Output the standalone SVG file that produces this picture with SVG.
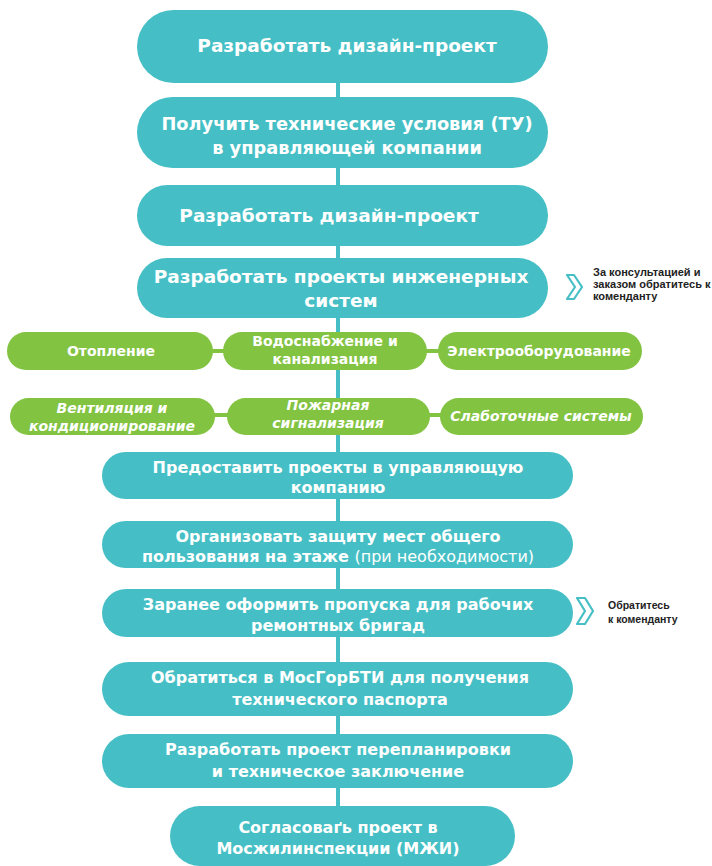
<svg xmlns="http://www.w3.org/2000/svg" width="712" height="866" viewBox="0 0 712 866">
<style>
.t{fill:#45BFC5}
.g{fill:#82C341}
.tx{font-family:"DejaVu Sans",sans-serif;font-weight:bold;fill:#fff;text-anchor:middle}
.big{font-size:18.5px}
.mid{font-size:16px}
.gt{font-size:14px}
.it{font-style:italic}
.note{font-family:"Liberation Sans",Arial,sans-serif;font-weight:bold;fill:#222}
.chev{fill:#fff;stroke:#45BFC5;stroke-width:2.2;stroke-linejoin:round}
</style>
<rect width="712" height="866" fill="#fff"/>
<g id="connectors">
<rect x="336" y="60" width="4" height="780" fill="#45BFC5"/>
<rect x="211" y="349" width="14" height="4" fill="#82C341"/>
<rect x="425" y="349" width="15" height="4" fill="#82C341"/>
<rect x="213" y="413" width="16" height="4" fill="#82C341"/>
<rect x="428" y="413" width="14" height="4" fill="#82C341"/>
</g>
<g id="n1"><rect class="t" x="137" y="10" width="411" height="73" rx="36.5"/><text class="tx big" x="347" y="52">Разработать дизайн-проект</text></g>
<g id="n2"><rect class="t" x="137" y="97" width="411" height="71" rx="35.5"/><text class="tx" font-size="17.8" x="347" y="130">Получить технические условия (ТУ)</text><text class="tx" font-size="17.8" x="347" y="154">в управляющей компании</text></g>
<g id="n3"><rect class="t" x="137" y="185" width="411" height="61" rx="30.5"/><text class="tx big" x="329" y="222">Разработать дизайн-проект</text></g>
<g id="n4"><rect class="t" x="137" y="258" width="411" height="60" rx="30"/><text class="tx big" x="341" y="283">Разработать проекты инженерных</text><text class="tx big" x="341" y="307">систем</text></g>
<g id="note1"><path class="chev" d="M567,275 L574,275 L582,287 L574,299 L567,299 L575,287 Z"/><text class="note" font-size="11" x="593" y="276">За консультацией и</text><text class="note" font-size="11" x="593" y="288">заказом обратитесь к</text><text class="note" font-size="11" x="593" y="300">коменданту</text></g>
<g id="g1"><rect class="g" x="7" y="332" width="206" height="38" rx="19"/><text class="tx gt" x="111" y="356">Отопление</text></g>
<g id="g2"><rect class="g" x="223" y="332" width="204" height="38" rx="19"/><text class="tx gt" x="325" y="346">Водоснабжение и</text><text class="tx gt" x="325" y="364">канализация</text></g>
<g id="g3"><rect class="g" x="438" y="332" width="204" height="38" rx="19"/><text class="tx gt" x="539" y="356">Электрооборудование</text></g>
<g id="g4"><rect class="g" x="10" y="398" width="205" height="37" rx="18.5"/><text class="tx gt it" x="112" y="413">Вентиляция и</text><text class="tx gt it" x="112" y="431">кондиционирование</text></g>
<g id="g5"><rect class="g" x="227" y="398" width="203" height="37" rx="18.5"/><text class="tx gt it" x="328" y="410">Пожарная</text><text class="tx gt it" x="328" y="428">сигнализация</text></g>
<g id="g6"><rect class="g" x="440" y="398" width="203" height="37" rx="18.5"/><text class="tx gt it" x="541" y="421">Слаботочные системы</text></g>
<g id="n5"><rect class="t" x="102" y="452" width="471" height="47" rx="23.5"/><text class="tx mid" x="338" y="473">Предоставить проекты в управляющую</text><text class="tx mid" x="338" y="493">компанию</text></g>
<g id="n6"><rect class="t" x="102" y="521" width="471" height="47" rx="23.5"/><text class="tx mid" x="338" y="542">Организовать защиту мест общего</text><text class="tx mid" x="338" y="562">пользования на этаже <tspan font-weight="normal">  (при необходимости)</tspan></text></g>
<g id="n7"><rect class="t" x="102" y="589" width="471" height="48" rx="24"/><text class="tx mid" x="338" y="610">Заранее оформить пропуска для рабочих</text><text class="tx mid" x="338" y="631">ремонтных бригад</text></g>
<g id="note2"><path class="chev" d="M577,598 L585,598 L593,611 L585,624 L577,624 L585,611 Z"/><text class="note" font-size="10.5" x="608" y="609">Обратитесь</text><text class="note" font-size="10.5" x="608" y="623">к коменданту</text></g>
<g id="n8"><rect class="t" x="102" y="662" width="471" height="54" rx="27"/><text class="tx mid" x="340" y="683">Обратиться в МосГорБТИ для получения</text><text class="tx mid" x="340" y="705">технического паспорта</text></g>
<g id="n9"><rect class="t" x="102" y="734" width="471" height="54" rx="27"/><text class="tx mid" x="338" y="755">Разработать проект перепланировки</text><text class="tx mid" x="338" y="777">и техническое заключение</text></g>
<g id="n10"><rect class="t" x="170" y="806" width="345" height="60" rx="30"/><text class="tx mid" x="338" y="833">Согласоваґь проект в</text><text class="tx mid" x="338" y="854">Мосжилинспекции (МЖИ)</text></g>
</svg>
